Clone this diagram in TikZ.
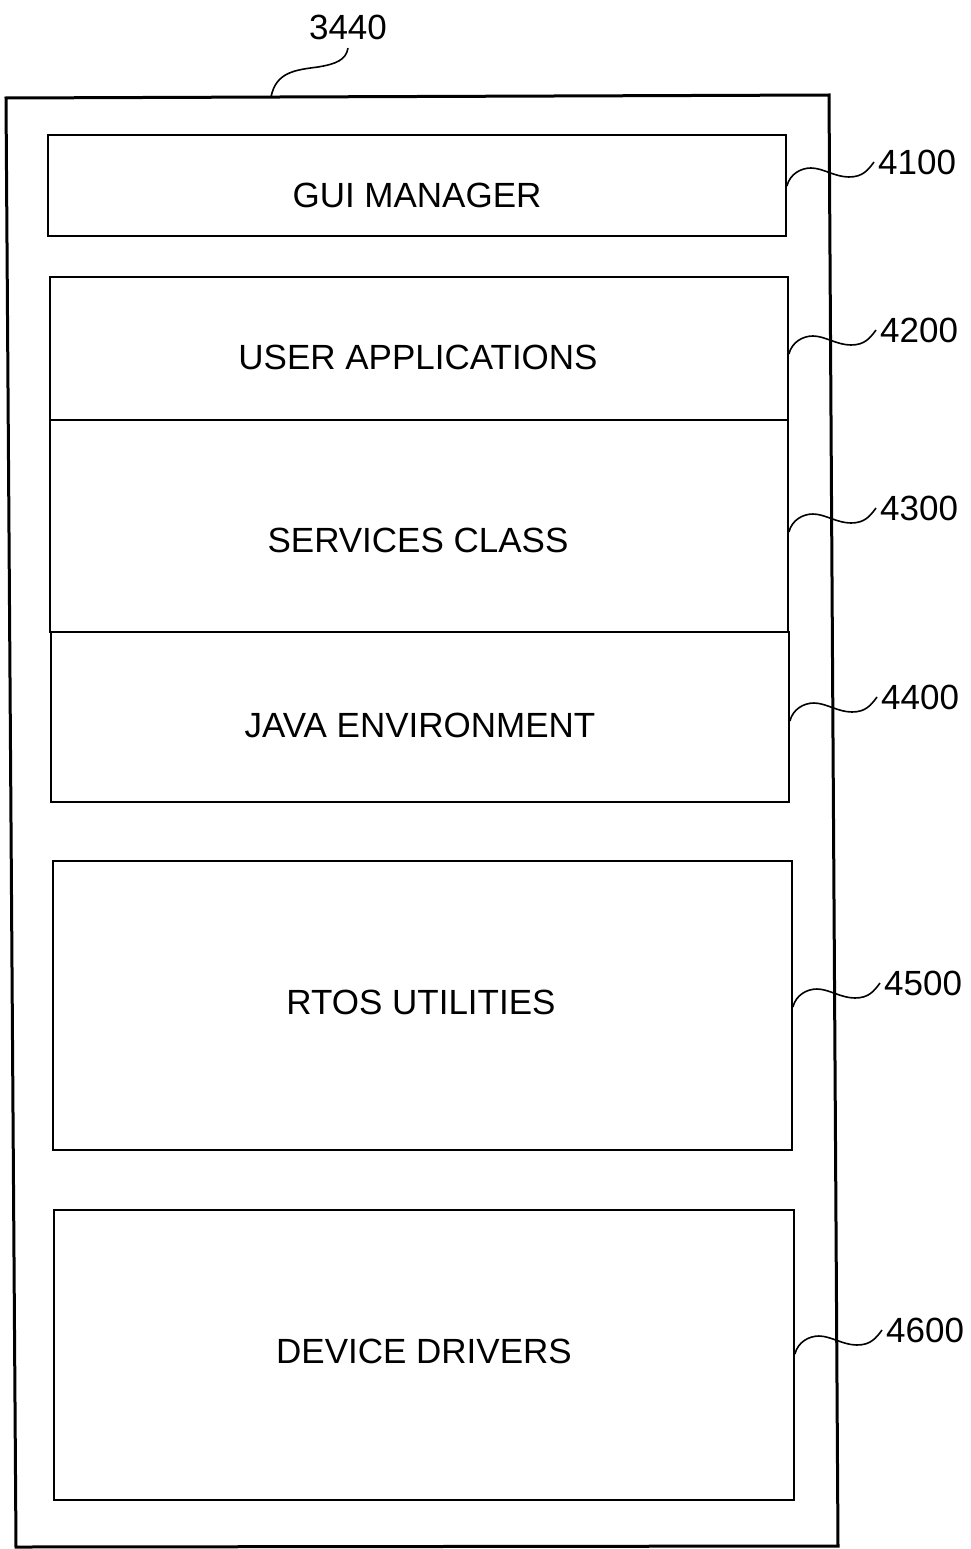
\documentclass[tikz,border=0pt]{standalone}
\usepackage{fontspec}
\setmainfont{Liberation Sans}
\newcommand\leadcurve[2]{\draw[lead] (#1) .. controls +(3,-12) and +(-10,0) .. ++(24,-18) .. controls +(12,0) and +(-14,0) .. ++(38,9) .. controls +(14,0) and +(-6,8) .. (#2);}
\begin{document}
\begin{tikzpicture}[x=1pt,y=-1pt,
  box/.style={draw, line width=1.8pt, inner sep=0pt},
  txt/.style={font=\fontsize{35}{40}\selectfont, inner sep=0pt},
  num/.style={font=\fontsize{35}{40}\selectfont, inner xsep=4pt, inner ysep=0pt, anchor=west},
  lead/.style={line width=1.6pt}]
\useasboundingbox (0,0) rectangle (970,1549);
% outer frame
\draw[line width=3pt] (6,98) -- (829,95) -- (838,1546) -- (16,1547) -- cycle;
\coordinate (f3440) at (271,97);
% boxes
\node[box, minimum width=738pt, minimum height=101pt] (gui) at (417,185.5) {};
\node[box, minimum width=738pt, minimum height=143pt] (user) at (419,348.5) {};
\node[box, minimum width=738pt, minimum height=212pt] (serv) at (419,526) {};
\node[box, minimum width=738pt, minimum height=170pt] (java) at (420,717) {};
\node[box, minimum width=739pt, minimum height=289pt] (rtos) at (422.5,1005.5) {};
\node[box, minimum width=740pt, minimum height=290pt] (dev) at (424,1355) {};
% texts
\node[txt] (tgui) at (417,195) {GUI MANAGER};
\node[txt] (tuser) at (418,357) {USER APPLICATIONS};
\node[txt] (tserv) at (418,540) {SERVICES CLASS};
\node[txt] (tjava) at (420,725) {JAVA ENVIRONMENT};
\node[txt] (trtos) at (421,1002) {RTOS UTILITIES};
\node[txt] (tdev) at (424,1351) {DEVICE DRIVERS};
% labels
\node[txt, inner ysep=8pt] (n3440) at (348,27.5) {3440};
\node[num] (n4100) at (874,162) {4100};
\node[num] (n4200) at (876,330) {4200};
\node[num] (n4300) at (876,508) {4300};
\node[num] (n4400) at (877,697) {4400};
\node[num] (n4500) at (880,983) {4500};
\node[num] (n4600) at (882,1330) {4600};
% leaders
\coordinate (s4100) at (gui.east |- 0,186);
\coordinate (s4200) at (user.east |- 0,354);
\coordinate (s4300) at (serv.east |- 0,532);
\coordinate (s4400) at (java.east |- 0,721);
\coordinate (s4500) at (rtos.east |- 0,1007);
\coordinate (s4600) at (dev.east |- 0,1354);
\leadcurve{s4100}{n4100.west}
\leadcurve{s4200}{n4200.west}
\leadcurve{s4300}{n4300.west}
\leadcurve{s4400}{n4400.west}
\leadcurve{s4500}{n4500.west}
\leadcurve{s4600}{n4600.west}
\draw[lead] (f3440) .. controls (276,72) and (295,70) .. (318,67) .. controls (336,64) and (346,60) .. (n3440.south);
\end{tikzpicture}
\end{document}
